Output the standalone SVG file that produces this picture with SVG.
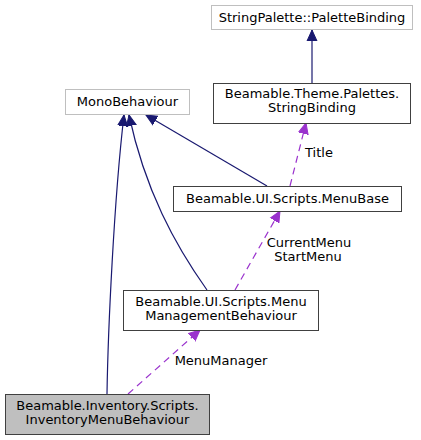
<svg xmlns="http://www.w3.org/2000/svg" width="421" height="440" viewBox="0 0 421 440">
<style>
text{font-family:"DejaVu Sans",sans-serif;font-size:13px;fill:#000;text-anchor:middle}
.ext{fill:#fff;stroke:#bfbfbf;stroke-width:1}
.cls{fill:#fff;stroke:#404040;stroke-width:1}
.cur{fill:#bfbfbf;stroke:#404040;stroke-width:1}
.inh{fill:none;stroke:#191970;stroke-width:1.2}
.use{fill:none;stroke:#9a32cd;stroke-width:1.2;stroke-dasharray:7,5}
.lbl{text-anchor:middle}
</style>
<defs>
<marker id="ai" markerWidth="12" markerHeight="12" refX="11" refY="5" orient="auto" markerUnits="userSpaceOnUse" viewBox="0 0 12 10">
<path d="M0,0 L11,5 L0,10 Z" fill="#191970" stroke="#191970"/>
</marker>
<marker id="au" markerWidth="12" markerHeight="12" refX="11" refY="5" orient="auto" markerUnits="userSpaceOnUse" viewBox="0 0 12 10">
<path d="M0,0 L11,5 L0,10 Z" fill="#9a32cd" stroke="#9a32cd"/>
</marker>
</defs>
<g id="connectors">
<path class="inh" d="M312,83 L312,30" marker-end="url(#ai)"/>
<path class="inh" d="M267,186 L146,115" marker-end="url(#ai)"/>
<path class="inh" d="M107,394 C108,330 114,200 124,115" marker-end="url(#ai)"/>
<path class="inh" d="M207,290 C175,245 145,190 129,115" marker-end="url(#ai)"/>
<path class="use" d="M290,186 L306,123" marker-end="url(#au)"/>
<path class="use" d="M235,290 L280,211" marker-end="url(#au)"/>
<path class="use" d="M128,394 L200,330" marker-end="url(#au)"/>
<text x="319" y="157">Title</text>
<text x="309" y="247">CurrentMenu</text>
<text x="308" y="261">StartMenu</text>
<text x="221" y="365">MenuManager</text>
</g>
<g id="node-palettebinding">
<rect class="ext" x="211.5" y="5.5" width="201" height="24"/>
<text x="312" y="22">StringPalette::PaletteBinding</text>
</g>
<g id="node-stringbinding">
<rect class="cls" x="213.5" y="83.5" width="197" height="40"/>
<text x="312" y="98">Beamable.Theme.Palettes.</text>
<text x="312" y="112">StringBinding</text>
</g>
<g id="node-monobehaviour">
<rect class="ext" x="65.5" y="89.5" width="124" height="25"/>
<text x="127.5" y="106">MonoBehaviour</text>
</g>
<g id="node-menubase">
<rect class="cls" x="173.5" y="186.5" width="228" height="25"/>
<text x="287.5" y="203">Beamable.UI.Scripts.MenuBase</text>
</g>
<g id="node-menumanagement">
<rect class="cls" x="123.5" y="290.5" width="195" height="40"/>
<text x="221" y="306">Beamable.UI.Scripts.Menu</text>
<text x="221" y="320">ManagementBehaviour</text>
</g>
<g id="node-inventory">
<rect class="cur" x="5.5" y="394.5" width="204" height="40"/>
<text x="107.5" y="410">Beamable.Inventory.Scripts.</text>
<text x="107.5" y="424">InventoryMenuBehaviour</text>
</g>
</svg>
